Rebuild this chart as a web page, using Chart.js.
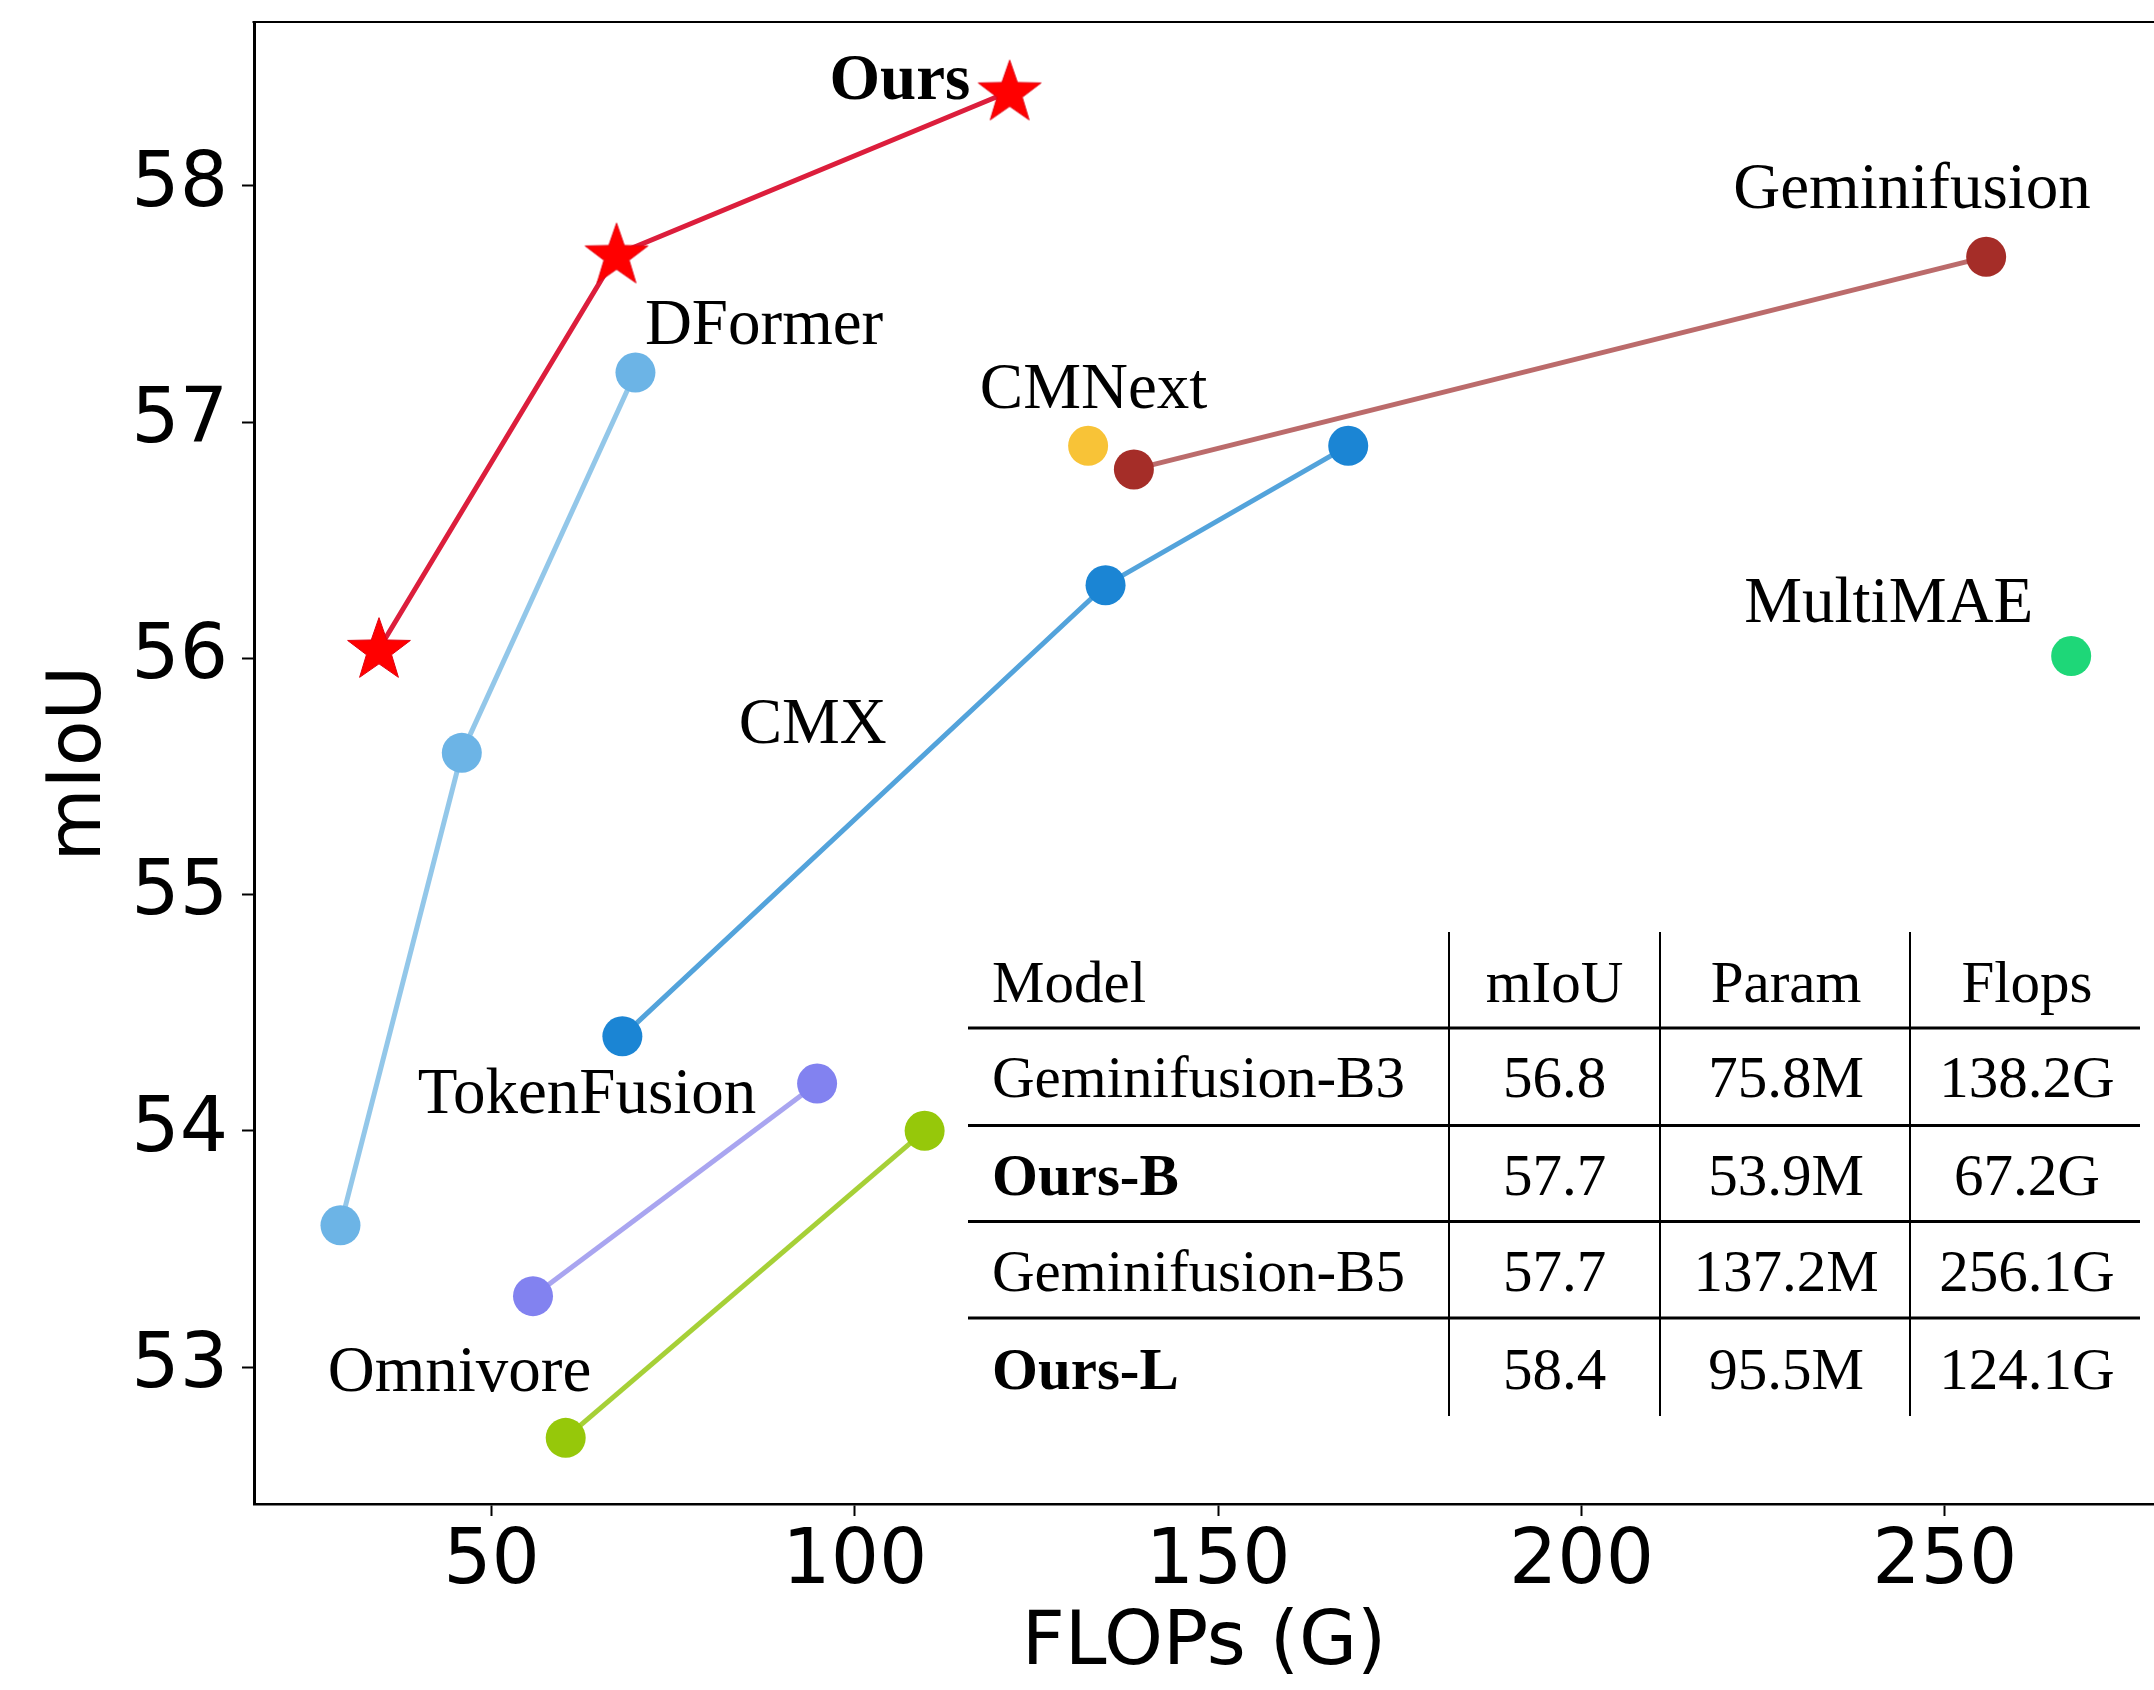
<!DOCTYPE html>
<html>
<head>
<meta charset="utf-8">
<script src="https://cdn.jsdelivr.net/npm/chart.js@4.4.1/dist/chart.umd.min.js"></script>
<style>
  html, body { margin: 0; padding: 0; background: #ffffff; }
  #wrap { width: 2154px; height: 1690px; position: relative; }
</style>
</head>
<body>
<div id="wrap"><canvas id="c" width="2154" height="1690"></canvas></div>
<script>
// ---------------- data ----------------
const oursX = [34.5, 67.2, 121.3];
const oursY = [56.04, 57.71, 58.40];
const dformerX = [29.2, 45.9, 69.8];
const dformerY = [53.60, 55.60, 57.21];
const cmxX = [68.0, 134.5, 167.9];
const cmxY = [54.40, 56.31, 56.90];
const geminiX = [138.4, 255.7];
const geminiY = [56.80, 57.70];
const tokenX = [55.7, 94.8];
const tokenY = [53.30, 54.20];
const omniX = [60.2, 109.6];
const omniY = [52.70, 54.00];
const cmnextX = [132.1];
const cmnextY = [56.90];
const multiX = [267.4];
const multiY = [56.01];

const xTicks = [50, 100, 150, 200, 250];
const yTicks = [53, 54, 55, 56, 57, 58];

// method name labels (anchored in data coordinates)
const labelTexts = ['Ours', 'DFormer', 'CMNext', 'Geminifusion', 'MultiMAE', 'CMX', 'TokenFusion', 'Omnivore'];
const labelX = [96.5, 71.1, 117.2, 220.9, 222.4, 84.0, 39.85, 27.45];
const labelY = [58.37, 57.33, 57.06, 57.905, 56.153, 55.64, 54.075, 52.90];
const labelBold = [true, false, false, false, false, false, false, false];

// inset table
const tableHeader = ['Model', 'mIoU', 'Param', 'Flops'];
const tableModels = ['Geminifusion-B3', 'Ours-B', 'Geminifusion-B5', 'Ours-L'];
const tableMiou = ['56.8', '57.7', '57.7', '58.4'];
const tableParam = ['75.8M', '53.9M', '137.2M', '95.5M'];
const tableFlops = ['138.2G', '67.2G', '256.1G', '124.1G'];
const tableBold = [false, true, false, true];

// ---------------- helpers ----------------
function pts(xs, ys) { return xs.map((x, i) => ({ x: x, y: ys[i] })); }

function makeStar(R, fill) {
  const size = Math.ceil(R * 2 + 4);
  const cv = document.createElement('canvas');
  cv.width = size; cv.height = size;
  const g = cv.getContext('2d');
  const cx = size / 2, cy = size / 2 + R * 0.05;
  const r = R * 0.40;
  g.beginPath();
  for (let i = 0; i < 10; i++) {
    const rad = (i % 2 === 0) ? R : r;
    const a = -Math.PI / 2 + i * Math.PI / 5;
    const px = cx + rad * Math.cos(a), py = cy + rad * Math.sin(a);
    if (i === 0) g.moveTo(px, py); else g.lineTo(px, py);
  }
  g.closePath();
  g.fillStyle = fill;
  g.fill();
  g.lineWidth = 1;
  g.strokeStyle = '#e00010';
  g.stroke();
  return cv;
}
const starImg = makeStar(33, '#ff0000');

const TICK_FONT = { family: 'DejaVu Sans', size: 76 };
const TITLE_FONT = { family: 'DejaVu Sans', size: 75 };

function ds(label, xs, ys, marker, line, style) {
  return {
    label: label,
    data: pts(xs, ys),
    borderColor: line,
    backgroundColor: marker,
    pointBackgroundColor: marker,
    pointBorderColor: marker,
    pointBorderWidth: 0,
    pointRadius: 20,
    pointHoverRadius: 20,
    pointStyle: style || 'circle',
    borderWidth: 5,
    showLine: xs.length > 1,
    fill: false,
    tension: 0,
    clip: false
  };
}

function zeroPad(s) {
  s.paddingTop = 0; s.paddingBottom = 0; s.paddingLeft = 0; s.paddingRight = 0;
}

const annotationPlugin = {
  id: 'annot',
  afterDatasetsDraw(chart) {
    const ctx = chart.ctx;
    const xs = chart.scales.x, ys = chart.scales.y;
    ctx.save();
    ctx.fillStyle = '#000000';
    ctx.textAlign = 'left';
    ctx.textBaseline = 'alphabetic';
    for (let i = 0; i < labelTexts.length; i++) {
      ctx.font = (labelBold[i] ? 'bold ' : '') + '65px "Liberation Serif"';
      ctx.fillText(labelTexts[i], xs.getPixelForValue(labelX[i]), ys.getPixelForValue(labelY[i]));
    }
    ctx.restore();
  },
  afterDraw(chart) {
    const ctx = chart.ctx;
    const a = chart.chartArea;
    ctx.save();
    // top spine
    ctx.strokeStyle = '#000';
    ctx.lineWidth = 2;
    ctx.beginPath();
    ctx.moveTo(a.left - 1.5, a.top - 1);
    ctx.lineTo(a.right, a.top - 1);
    ctx.stroke();

    // inset table
    const left = 968, right = 2140;
    const hRules = [1028, 1125.5, 1221.5, 1318];
    const vRules = [1449, 1660, 1910];
    const vTop = 932, vBot = 1416;
    const baselines = [1002, 1096.5, 1194.5, 1291, 1388.5];
    const modelLeft = 992;
    const centers = [1554.5, 1786, 2027];

    ctx.lineWidth = 3;
    hRules.forEach(y => {
      ctx.beginPath(); ctx.moveTo(left, y); ctx.lineTo(right, y); ctx.stroke();
    });
    ctx.lineWidth = 2;
    vRules.forEach(x => {
      ctx.beginPath(); ctx.moveTo(x, vTop); ctx.lineTo(x, vBot); ctx.stroke();
    });

    ctx.fillStyle = '#000';
    ctx.textBaseline = 'alphabetic';
    ctx.font = '59px "Liberation Serif"';
    ctx.textAlign = 'left';
    ctx.fillText(tableHeader[0], modelLeft, baselines[0]);
    ctx.textAlign = 'center';
    for (let c = 1; c < 4; c++) ctx.fillText(tableHeader[c], centers[c - 1], baselines[0]);

    for (let r = 0; r < tableModels.length; r++) {
      const b = baselines[r + 1];
      ctx.textAlign = 'left';
      ctx.font = (tableBold[r] ? 'bold ' : '') + '59px "Liberation Serif"';
      ctx.fillText(tableModels[r], modelLeft, b);
      ctx.font = '59px "Liberation Serif"';
      ctx.textAlign = 'center';
      ctx.fillText(tableMiou[r], centers[0], b);
      ctx.fillText(tableParam[r], centers[1], b);
      ctx.fillText(tableFlops[r], centers[2], b);
    }
    ctx.restore();
  }
};

const chart = new Chart(document.getElementById('c'), {
  type: 'line',
  data: {
    datasets: [
      ds('Ours', oursX, oursY, '#ff0000', '#dc1e3c', starImg),
      ds('DFormer', dformerX, dformerY, '#6cb4e6', 'rgba(120,185,228,0.80)'),
      ds('CMX', cmxX, cmxY, '#1b85d4', 'rgba(40,140,210,0.80)'),
      ds('Geminifusion', geminiX, geminiY, '#a52d28', 'rgba(170,70,70,0.80)'),
      ds('CMNext', cmnextX, cmnextY, '#f8c337', '#f8c337'),
      ds('MultiMAE', multiX, multiY, '#1ed778', '#1ed778'),
      ds('TokenFusion', tokenX, tokenY, '#8282f0', 'rgba(140,135,235,0.75)'),
      ds('Omnivore', omniX, omniY, '#96c80a', 'rgba(150,200,20,0.85)')
    ]
  },
  options: {
    responsive: false,
    animation: false,
    devicePixelRatio: 1,
    layout: { autoPadding: false, padding: { top: 23, right: 0, bottom: 0, left: 0 } },
    plugins: { legend: { display: false }, tooltip: { enabled: false } },
    scales: {
      x: {
        type: 'linear',
        min: 17.3,
        max: 278.8,
        afterBuildTicks: (s) => { s.ticks = xTicks.map(v => ({ value: v })); },
        afterFit: (s) => { s.height = 186; zeroPad(s); },
        ticks: { font: TICK_FONT, color: '#000', padding: 2, maxRotation: 0, autoSkip: false },
        grid: { drawOnChartArea: false, drawTicks: true, tickLength: 12, tickWidth: 2, color: '#000' },
        border: { display: true, color: '#000', width: 2.5 },
        title: { display: true, text: 'FLOPs (G)', font: TITLE_FONT, color: '#000', padding: { top: 0, bottom: 0 } }
      },
      y: {
        type: 'linear',
        min: 52.42,
        max: 58.69,
        afterBuildTicks: (s) => { s.ticks = yTicks.map(v => ({ value: v })); },
        afterFit: (s) => { s.width = 254; zeroPad(s); },
        ticks: { font: TICK_FONT, color: '#000', padding: 14, autoSkip: false },
        grid: { drawOnChartArea: false, drawTicks: true, tickLength: 12, tickWidth: 2, color: '#000' },
        border: { display: true, color: '#000', width: 3 },
        title: { display: true, text: 'mIoU', font: TITLE_FONT, color: '#000', padding: { top: 36, bottom: 0 } }
      }
    }
  },
  plugins: [annotationPlugin]
});
</script>
</body>
</html>
